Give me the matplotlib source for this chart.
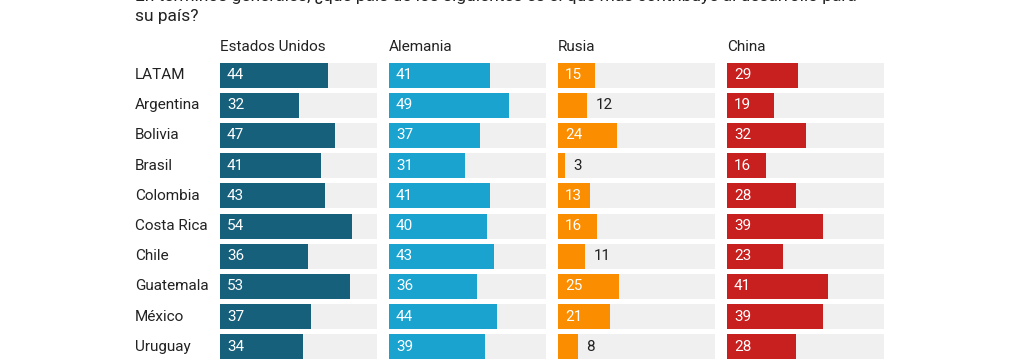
import matplotlib.pyplot as plt
import matplotlib.transforms as mtransforms

plt.rcParams['font.family'] = ['Roboto', 'DejaVu Sans']

countries = ['LATAM', 'Argentina', 'Bolivia', 'Brasil', 'Colombia',
             'Costa Rica', 'Chile', 'Guatemala', 'México', 'Uruguay']
panels = ['Estados Unidos', 'Alemania', 'Rusia', 'China']
estados_unidos = [44, 32, 47, 41, 43, 54, 36, 53, 37, 34]
alemania = [41, 49, 37, 31, 41, 40, 43, 36, 44, 39]
rusia = [15, 12, 24, 3, 13, 16, 11, 25, 21, 8]
china = [29, 19, 32, 16, 28, 39, 23, 41, 39, 28]
series = [estados_unidos, alemania, rusia, china]
colors = ['#17607b', '#1ba3d0', '#fb8d00', '#c81f1f']

W, H = 1024, 364
fig = plt.figure(figsize=(W / 100, H / 100), dpi=100)

# question text, first line cut off at the top edge like the source
fig.text(135 / W, 1 - 1 / H,
         'En términos generales, ¿qué país de los siguientes es el que más contribuye al desarrollo para',
         fontsize=12.5, color='#222222', va='baseline', ha='left')
fig.text(135 / W, 1 - 16 / H, 'su país?', fontsize=12.5, color='#222222',
         va='center', ha='left')

top, bottom = 60, 362
xmax = 64
for i, (name, vals, col) in enumerate(zip(panels, series, colors)):
    left = 220 + 169 * i
    ax = fig.add_axes([left / W, 1 - bottom / H, 157 / W, (bottom - top) / H])
    ypos = list(range(len(countries)))
    ax.barh(ypos, [xmax] * len(countries), height=0.83, color='#f0f0f0')
    ax.barh(ypos, vals, height=0.83, color=col)
    ax.set_xlim(0, xmax)
    ax.set_ylim(len(countries) - 0.5, -0.5)
    ax.axis('off')
    ax.text(0, 1 + 13 / (bottom - top), name, transform=ax.transAxes,
            fontsize=11, color='#222222', va='center', ha='left')
    for y, v in zip(ypos, vals):
        if v >= 13:
            ax.annotate(str(v), (0, y), xytext=(5, 0), textcoords='offset points',
                        color='white', fontsize=11, va='center', ha='left')
        else:
            ax.annotate(str(v), (v, y), xytext=(6, 0), textcoords='offset points',
                        color='#222222', fontsize=11, va='center', ha='left')
    if i == 0:
        tr = mtransforms.blended_transform_factory(fig.transFigure, ax.transData)
        for y, c in zip(ypos, countries):
            ax.text(135 / W, y, c, transform=tr, fontsize=11, color='#222222',
                    va='center', ha='left')

fig.savefig('out.png', dpi=100)
